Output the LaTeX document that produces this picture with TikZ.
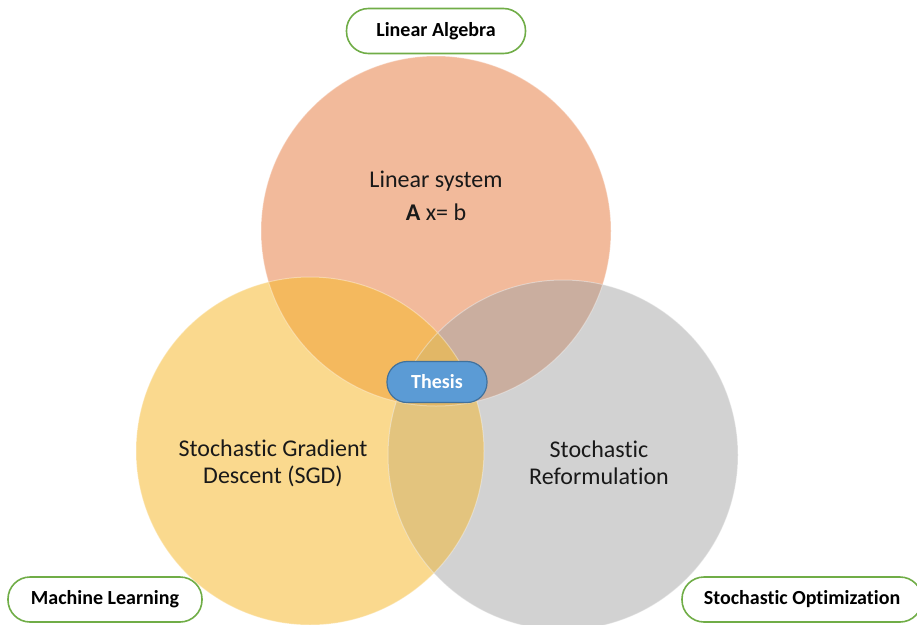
\documentclass[tikz,border=0pt]{standalone}
\usepackage{fontspec}
\setmainfont[Ligatures=NoCommon]{Carlito}
\usetikzlibrary{shapes,positioning}
\definecolor{algfill}{HTML}{F2BA9B}
\definecolor{mlfill}{HTML}{FAD98E}
\definecolor{optfill}{HTML}{D2D2D2}
\definecolor{algml}{HTML}{F4B95E}
\definecolor{algopt}{HTML}{CAAE9F}
\definecolor{mlopt}{HTML}{E3C47E}
\definecolor{allthree}{HTML}{E2B766}
\definecolor{labgreen}{HTML}{70AD47}
\definecolor{thesisblue}{HTML}{5B9BD5}
\definecolor{thesisedge}{HTML}{41719C}

\begin{document}
\begin{tikzpicture}[x=1pt,y=-1pt,
    lab/.style={draw=labgreen,line width=1.6pt,fill=white,rounded corners=22pt,
      minimum height=45pt,font=\fontsize{20}{24}\selectfont\bfseries},
    txt/.style={align=center,text=black!90,font=\fontsize{24}{27}\selectfont}]
  \useasboundingbox (0,0) rectangle (917,624);
  \coordinate (ca) at (436,231);
  \coordinate (cm) at (310,451);
  \coordinate (co) at (563,455);
  % plain circles
  \fill[algfill] (ca) circle (175);
  \fill[mlfill] (cm) circle (174);
  \fill[optfill] (co) circle (175);
  % overlaps
  \begin{scope}
    \clip (ca) circle (175);
    \fill[algml] (cm) circle (174);
    \fill[algopt] (co) circle (175);
  \end{scope}
  \begin{scope}
    \clip (cm) circle (174);
    \fill[mlopt] (co) circle (175);
    \clip (co) circle (175);
    \fill[allthree] (ca) circle (175);
  \end{scope}
  \draw[white,opacity=0.35,line width=1pt] (ca) circle (175) (cm) circle (174) (co) circle (175);
  % texts
  \node[txt,font=\fontsize{24}{33}\selectfont] (linsys) at (436,196) {Linear system\\\textbf{A} x= b};
  \node[txt] (sgd) at (273,463) {Stochastic Gradient\\Descent (SGD)};
  \node[txt] (reform) at (599,463) {Stochastic\\Reformulation};
  % labels
  \node[lab,minimum width=179pt] (linalg) at (436,31) {Linear Algebra};
  \node[lab,minimum width=194pt] (mlearn) at (105,599.5) {Machine Learning};
  \node[lab,minimum width=240pt] (stopt) at (802,599.5) {Stochastic Optimization};
  \node[draw=thesisedge,fill=thesisblue,line width=1.2pt,rounded corners=20pt,
    minimum width=100pt,minimum height=41pt,text=white,
    font=\fontsize{20}{24}\selectfont\bfseries] (thesis) at (437,382) {Thesis};
\end{tikzpicture}
\end{document}
